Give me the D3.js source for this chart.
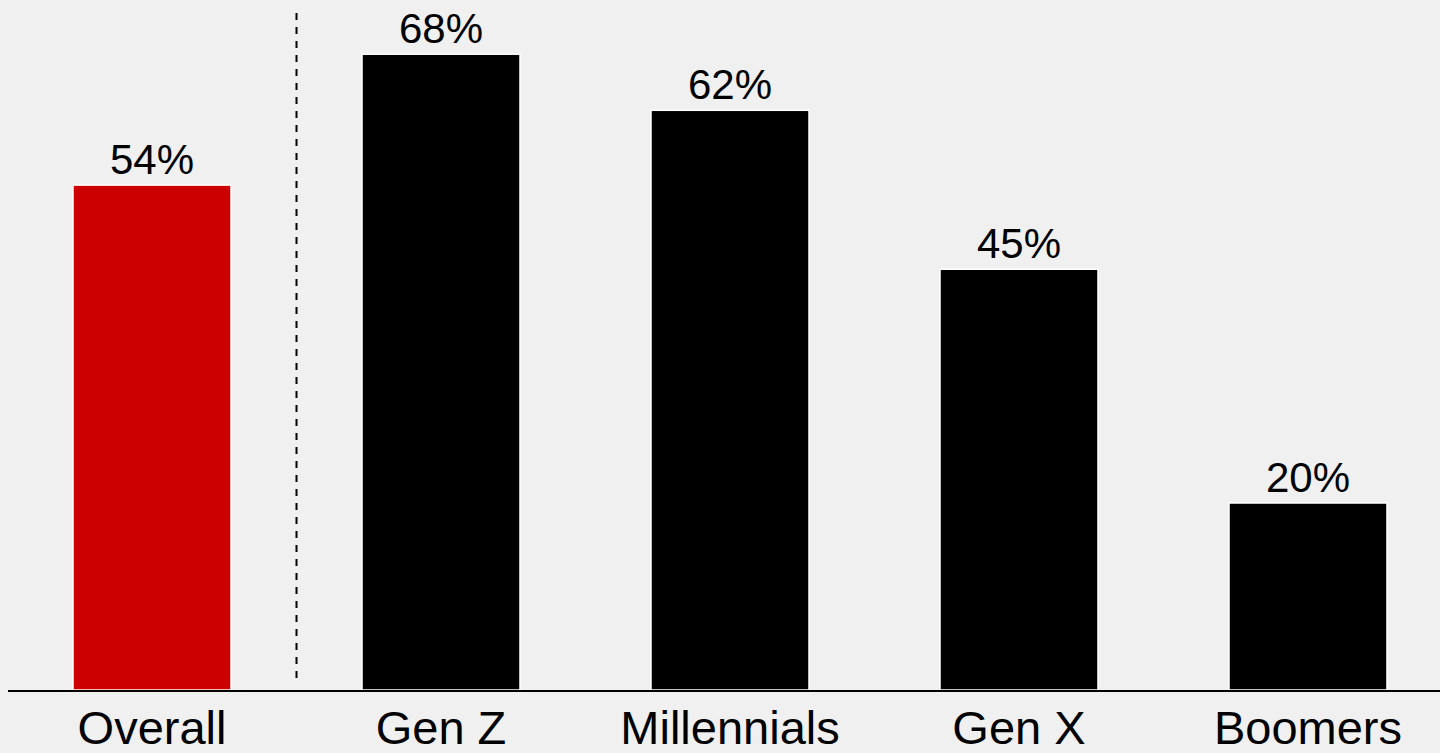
<!DOCTYPE html>
<html>
<head>
<meta charset="utf-8">
<script src="https://cdn.jsdelivr.net/npm/d3@7"></script>
<style>
  html, body { margin: 0; padding: 0; background: #f0f0f0; }
  svg { display: block; font-family: "Liberation Sans", Arial, sans-serif; }
</style>
</head>
<body>
<svg id="chart"></svg>
<script>
var categories = ["Overall", "Gen Z", "Millennials", "Gen X", "Boomers"]
var values = [54, 68, 62, 45, 20]
var valueLabels = ["54%", "68%", "62%", "45%", "20%"]

var dimensions = {
    width: 1440,
    height: 753,
    baseline: 690
}

var svg = d3.select("#chart")
    .attr("width", dimensions.width)
    .attr("height", dimensions.height)

svg.append("rect")
    .attr("width", dimensions.width)
    .attr("height", dimensions.height)
    .attr("fill", "#f0f0f0")

var xScale = d3.scaleBand()
    .domain(categories)
    .range([7.5, 1452.5])
    .paddingInner(0.4533)
    .paddingOuter(0.2267)

var yScale = d3.scaleLinear()
    .domain([0, 100])
    .range([dimensions.baseline, dimensions.baseline - 935])

var data = categories.map((c, i) => ({ cat: c, value: values[i], label: valueLabels[i] }))

svg.append("g")
    .selectAll("rect")
    .data(data)
    .enter()
    .append("rect")
    .attr("x", d => xScale(d.cat))
    .attr("y", d => yScale(d.value))
    .attr("width", xScale.bandwidth())
    .attr("height", d => yScale(0) - yScale(d.value))
    .attr("fill", (d, i) => i == 0 ? "#cc0000" : "#000000")
    .attr("stroke", "#ffffff")
    .attr("stroke-width", 1.5)

svg.append("g")
    .selectAll("text")
    .data(data)
    .enter()
    .append("text")
    .attr("x", d => xScale(d.cat) + xScale.bandwidth() / 2)
    .attr("y", d => yScale(d.value) - 11)
    .attr("text-anchor", "middle")
    .attr("font-size", 42)
    .attr("fill", "#000")
    .text(d => d.label)

// separator between overall and generations
var sepX = (xScale(categories[0]) + xScale.bandwidth() + xScale(categories[1])) / 2
svg.append("line")
    .attr("x1", sepX).attr("x2", sepX)
    .attr("y1", 13).attr("y2", 680)
    .attr("stroke", "#000")
    .attr("stroke-width", 2)
    .attr("stroke-dasharray", "7,7")

var xAxisGen = d3.axisBottom(xScale).tickSize(0).tickPadding(0)
var xAxis = svg.append("g")
    .attr("transform", `translate(0,${dimensions.baseline + 1})`)
    .call(xAxisGen)

xAxis.select(".domain")
    .attr("d", `M8,0H${dimensions.width}`)
    .attr("stroke", "#000")
    .attr("stroke-width", 2)

xAxis.selectAll("text")
    .attr("font-size", 47)
    .attr("font-family", "Liberation Sans, Arial, sans-serif")
    .attr("fill", "#000")
    .attr("dy", null)
    .attr("y", 53)
</script>
</body>
</html>
